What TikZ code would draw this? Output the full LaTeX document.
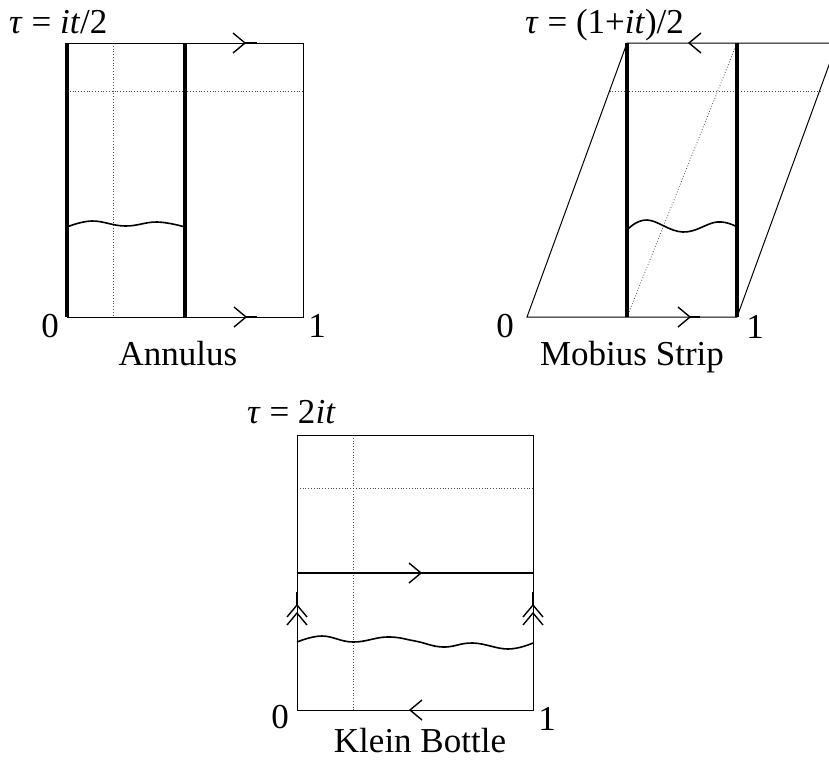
\documentclass[tikz,border=0pt]{standalone}
\usepackage{fontspec}
\setmainfont{Liberation Serif}
\begin{document}
\begin{tikzpicture}[x=1pt,y=-1pt,
  edge/.style={line width=1pt},
  bold/.style={line width=3.6pt},
  dots/.style={dotted,line width=0.8pt,black!70},
  wave/.style={line width=1.6pt},
  lbl/.style={font=\fontsize{35}{40}\selectfont,inner sep=0pt},
  chev/.pic={\draw[line width=1.4pt] (-12,-10) -- (0,0) -- (-12,10);},
  dchev/.pic={\draw[line width=1.4pt] (-12,-10) -- (0,0) -- (-12,10) (-20,-10) -- (-8,0) -- (-20,10);
              \draw[line width=1.8pt] (0,0) -- (13,0);}
]
\useasboundingbox (0,0) rectangle (829,761);
% ---------------- Annulus ----------------
\draw[dots] (113,43) -- (113,317);
\draw[dots] (67,91) -- (303,91);
\draw[edge] (67,43) rectangle (303,317);
\draw[bold] (67,43) -- (67,317);
\draw[bold] (185,43) -- (185,317);
\draw[wave] plot[smooth,tension=0.7] coordinates {(67,227) (92,221) (125,226) (157,222) (185,227)};
\pic at (245,43) {chev};
\pic at (246,317) {chev};
\draw[line width=1.6pt] (245,43) -- (257,43) (246,317) -- (257,317);
\node[lbl,anchor=base west] (tauA) at (9,33) {\textit{τ} = \textit{it}/2};
\node[lbl,anchor=base] (zeroA) at (50,337) {0};
\node[lbl,anchor=base] (oneA) at (317,337) {1};
\node[lbl,anchor=base] (nameA) at (178,365) {Annulus};
% ---------------- Mobius ----------------
\draw[dots] (627,317) -- (737,43);
\draw[dots] (609.5,91) -- (820,91);
\draw[edge] (527,317) -- (737,317) -- (837,43) -- (627,43) -- cycle;
\draw[bold] (627,43) -- (627,317);
\draw[bold] (737,43) -- (737,317);
\draw[wave] plot[smooth,tension=0.7] coordinates {(627,230) (647,220) (683,232) (717,222) (737,227)};
\pic[rotate=180] at (689,43) {chev};
\pic at (690,317) {chev};
\draw[line width=1.6pt] (690,317) -- (700,317);
\node[lbl,anchor=base west] (tauM) at (525,33) {\textit{τ} = (1+\textit{it})/2};
\node[lbl,anchor=base] (zeroM) at (505,337) {0};
\node[lbl,anchor=base] (oneM) at (755,338) {1};
\node[lbl,anchor=base] (nameM) at (632,365) {Mobius Strip};
% ---------------- Klein bottle ----------------
\draw[dots] (353,435) -- (353,710);
\draw[dots] (297,488) -- (533,488);
\draw[edge] (297,435) rectangle (533,710);
\draw[line width=1.6pt] (297,573) -- (533,573);
\draw[wave] plot[smooth,tension=0.7] coordinates {(297,642) (322,636) (353,642) (387,637) (415,641) (443,647) (473,643) (508,649) (533,643)};
\pic at (421,573) {chev};
\pic[rotate=180] at (410,710) {chev};
\pic[rotate=90] at (297,605) {dchev};
\pic[rotate=90] at (533,605) {dchev};
\node[lbl,anchor=base west] (tauK) at (247,423) {\textit{τ} = 2\textit{it}};
\node[lbl,anchor=base] (zeroK) at (280,728) {0};
\node[lbl,anchor=base] (oneK) at (547,730) {1};
\node[lbl,anchor=base] (nameK) at (420,752) {Klein Bottle};
\end{tikzpicture}
\end{document}
